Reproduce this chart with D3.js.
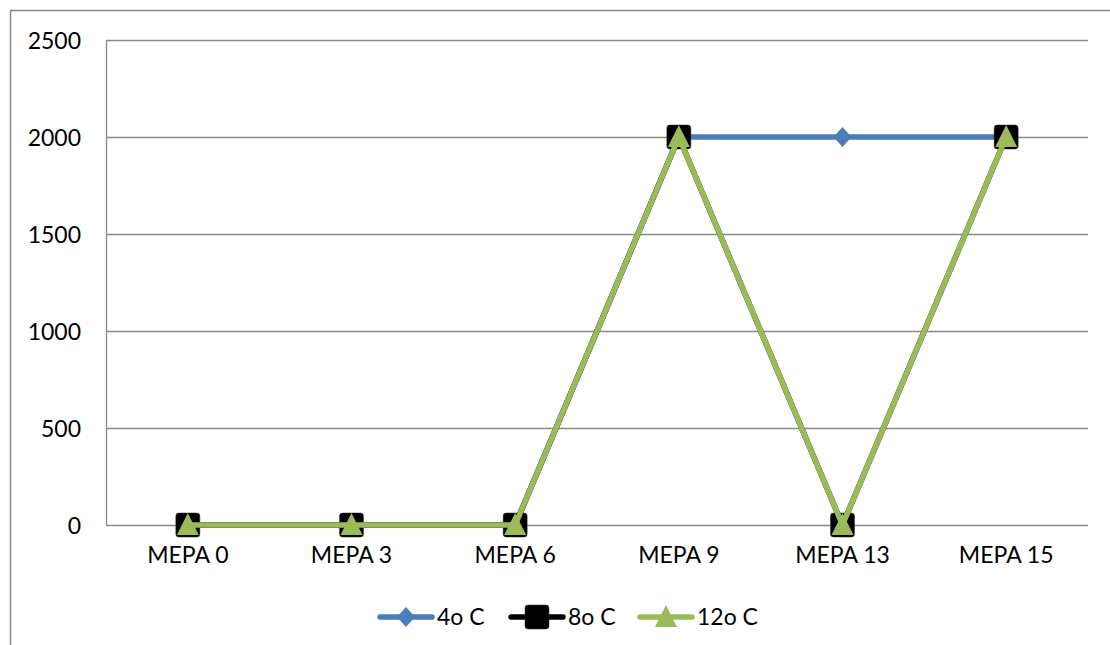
<!DOCTYPE html>
<html><head><meta charset="utf-8">
<script src="https://cdn.jsdelivr.net/npm/d3@7"></script>
<style>
body{margin:0;background:#fff;}
text{font-family:Lato,"Open Sans",sans-serif;fill:#000;}
</style></head>
<body><svg id="c" width="1110" height="645"></svg>
<script>
const categories = ["MEPA 0","MEPA 3","MEPA 6","MEPA 9","MEPA 13","MEPA 15"];
const seriesNames = ["4o C","8o C","12o C"];
const values4 = [0,0,0,2000,2000,2000];
const values8 = [0,0,0,2000,0,2000];
const values12 = [0,0,0,2000,0,2000];
const yTicks = [0,500,1000,1500,2000,2500];

const series = [
  {name: seriesNames[0], values: values4, color: "#4a7ebb", marker: "diamond"},
  {name: seriesNames[1], values: values8, color: "#000000", marker: "square"},
  {name: seriesNames[2], values: values12, color: "#9bbb59", marker: "triangle"}
];

const svg = d3.select("#c");
const W = 1110, H = 645;
const m = {left:106, right:1088, top:40, bottom:525};
const FS = 23;

// outer chart border
svg.append("rect").attr("x",10.5).attr("y",10.5).attr("width",W+20).attr("height",H+20)
  .attr("fill","none").attr("stroke","#888").attr("stroke-width",1.5);

const x = d3.scaleBand().domain(categories).range([m.left,m.right]);
const y = d3.scaleLinear().domain([0,2500]).range([m.bottom,m.top]);

// horizontal gridlines
svg.append("g").selectAll("line").data(yTicks).join("line")
  .attr("x1",m.left).attr("x2",m.right)
  .attr("y1",d=>y(d)+0.5).attr("y2",d=>y(d)+0.5)
  .attr("stroke","#898989").attr("stroke-width",1.3);

// vertical axis line
svg.append("line").attr("x1",m.left+0.5).attr("x2",m.left+0.5)
  .attr("y1",m.top).attr("y2",m.bottom+0.5).attr("stroke","#898989").attr("stroke-width",1.3);

// y tick labels
const yAxis = d3.axisLeft(y).tickValues(yTicks).tickFormat(d3.format("d")).tickSize(0).tickPadding(0);
const gy = svg.append("g").attr("transform",`translate(81,0)`).call(yAxis);
gy.select(".domain").remove();
gy.selectAll("text").attr("font-size",FS).attr("font-family","Lato").attr("dy","0.35em");

// x tick labels
const xAxis = d3.axisBottom(x).tickSize(0).tickPadding(0);
const gx = svg.append("g").attr("transform",`translate(0,${m.bottom+21})`).call(xAxis);
gx.select(".domain").remove();
gx.selectAll("text").attr("font-size",FS).attr("font-family","Lato").attr("dy","0.75em");

const cx = c => x(c) + x.bandwidth()/2;

function drawMarker(g, type, color){
  if(type==="diamond"){
    g.append("path").attr("d","M0,-10L9,0L0,10L-9,0Z").attr("fill",color);
  } else if(type==="square"){
    g.append("rect").attr("x",-12).attr("y",-12).attr("width",24).attr("height",24)
      .attr("rx",3).attr("fill",color).attr("stroke","#333").attr("stroke-width",0.5);
  } else {
    g.append("path").attr("d","M0,-12L11,10L-11,10Z").attr("fill",color);
  }
}

const line = d3.line().x((d,i)=>cx(categories[i])).y(d=>y(d));

series.forEach(s=>{
  svg.append("path").datum(s.values).attr("d",line)
    .attr("fill","none").attr("stroke",s.color).attr("stroke-width",5.5)
    .attr("stroke-linejoin","round").attr("stroke-linecap","round");
  s.values.forEach((v,i)=>{
    const g = svg.append("g").attr("transform",`translate(${cx(categories[i])},${y(v)})`);
    drawMarker(g, s.marker, s.color);
  });
});

// legend
const legendX = [380, 511, 640];
const lg = svg.append("g");
series.forEach((s,i)=>{
  const lx = legendX[i], ly = 617;
  lg.append("line").attr("x1",lx).attr("x2",lx+52).attr("y1",ly).attr("y2",ly)
    .attr("stroke",s.color).attr("stroke-width",5.5).attr("stroke-linecap","round");
  const g = lg.append("g").attr("transform",`translate(${lx+26},${ly})`);
  drawMarker(g, s.marker, s.color);
  lg.append("text").attr("x",lx+57).attr("y",ly).attr("dy","0.35em")
    .attr("font-size",FS).text(s.name);
});
</script></body></html>
